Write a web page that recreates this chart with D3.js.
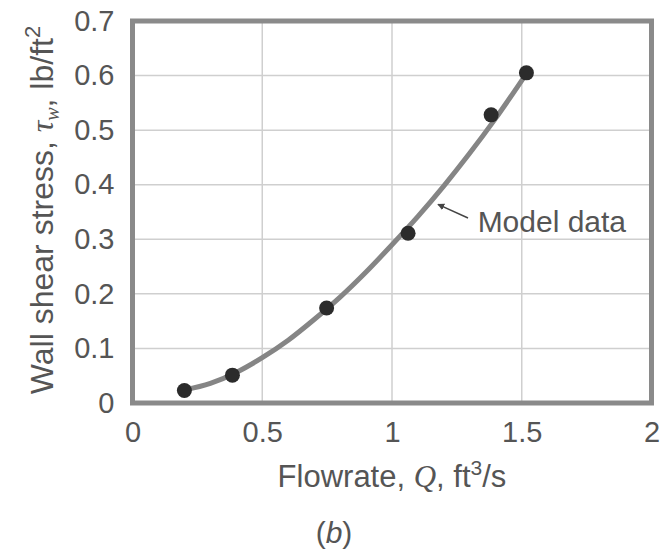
<!DOCTYPE html>
<html>
<head>
<meta charset="utf-8">
<script src="https://cdn.jsdelivr.net/npm/d3@7"></script>
<style>
body { margin: 0; background: #fff; }
text { font-family: "Liberation Sans", Arial, sans-serif; fill: #555; }
.serif { font-family: "Liberation Serif", "Times New Roman", serif; font-style: italic; }
</style>
</head>
<body>
<svg id="chart" width="671" height="553"></svg>
<script>
// measured points (model data)
let flowrate = [0.2, 0.385, 0.748, 1.062, 1.382, 1.518];
let shearStress = [0.023, 0.051, 0.174, 0.311, 0.528, 0.605];

// smooth line through the model data
let curveQ = [0.2, 0.3, 0.4, 0.5, 0.6, 0.7, 0.8, 0.9, 1.0, 1.1, 1.2, 1.3, 1.4, 1.52];
let curveTau = [0.024, 0.036, 0.056, 0.083, 0.115, 0.153, 0.194, 0.24, 0.29, 0.342, 0.398, 0.458, 0.522, 0.605];

let xTicks = [0, 0.5, 1, 1.5, 2];
let yTicks = [0, 0.1, 0.2, 0.3, 0.4, 0.5, 0.6, 0.7];

// annotation, in data units
let labelText = "Model data";
let labelAt = [1.33, 0.313];
let arrowFrom = [1.293, 0.339];
let arrowTo = [1.177, 0.364];

let svg = d3.select("#chart");

// plot box (window.top is taken, so prefixed names)
let plotLeft = 132.5, plotRight = 651.5, plotTop = 21, plotBottom = 403;

let x = d3.scaleLinear().domain([0, 2]).range([plotLeft, plotRight]);
let y = d3.scaleLinear().domain([0, 0.7]).range([plotBottom, plotTop]);

// grid
svg.append("g")
    .selectAll("line")
    .data(xTicks.slice(1, -1))
    .enter().append("line")
    .attr("x1", d => x(d)).attr("x2", d => x(d))
    .attr("y1", plotTop).attr("y2", plotBottom)
    .attr("stroke", "#cfcfcf").attr("stroke-width", 1.5);

svg.append("g")
    .selectAll("line")
    .data(yTicks.slice(1, -1))
    .enter().append("line")
    .attr("x1", plotLeft).attr("x2", plotRight)
    .attr("y1", d => y(d)).attr("y2", d => y(d))
    .attr("stroke", "#cfcfcf").attr("stroke-width", 1.5);

// axes (labels only, frame drawn separately)
let fmt = d => String(d);
let xAxis = svg.append("g")
    .attr("transform", "translate(0," + plotBottom + ")")
    .call(d3.axisBottom(x).tickValues(xTicks).tickFormat(fmt).tickSize(0).tickPadding(18));
let yAxis = svg.append("g")
    .attr("transform", "translate(" + plotLeft + ",0)")
    .call(d3.axisLeft(y).tickValues(yTicks).tickFormat(fmt).tickSize(0).tickPadding(18));

[xAxis, yAxis].forEach(function(a){
    a.select(".domain").remove();
    a.selectAll("text")
        .attr("font-size", 29)
        .attr("font-family", "Liberation Sans, Arial, sans-serif")
        .attr("fill", "#555");
});

// frame
svg.append("rect")
    .attr("x", plotLeft).attr("y", plotTop)
    .attr("width", plotRight - plotLeft).attr("height", plotBottom - plotTop)
    .attr("fill", "none")
    .attr("stroke", "#8a8a8a")
    .attr("stroke-width", 5);

// model curve
let curveData = curveQ.map((q, i) => [q, curveTau[i]]);
let line = d3.line()
    .x(d => x(d[0]))
    .y(d => y(d[1]))
    .curve(d3.curveMonotoneX);

svg.append("path")
    .datum(curveData)
    .attr("d", line)
    .attr("fill", "none")
    .attr("stroke", "#858585")
    .attr("stroke-width", 5);

// points
svg.append("g")
    .selectAll("circle")
    .data(flowrate)
    .enter().append("circle")
    .attr("cx", d => x(d))
    .attr("cy", (d, i) => y(shearStress[i]))
    .attr("r", 7.5)
    .attr("fill", "#2b2b2b");

// arrow + label
svg.append("defs").append("marker")
    .attr("id", "head")
    .attr("viewBox", "0 0 10 10")
    .attr("refX", 9).attr("refY", 5)
    .attr("markerWidth", 7).attr("markerHeight", 7)
    .attr("markerUnits", "userSpaceOnUse")
    .attr("orient", "auto")
    .append("path")
    .attr("d", "M0,0 L10,5 L0,10 z")
    .attr("fill", "#444");

svg.append("line")
    .attr("x1", x(arrowFrom[0])).attr("y1", y(arrowFrom[1]))
    .attr("x2", x(arrowTo[0])).attr("y2", y(arrowTo[1]))
    .attr("stroke", "#444").attr("stroke-width", 1.5)
    .attr("marker-end", "url(#head)");

svg.append("text")
    .attr("x", x(labelAt[0])).attr("y", y(labelAt[1]))
    .attr("font-size", 30)
    .text(labelText);

// x title
let xt = svg.append("text")
    .attr("x", (plotLeft + plotRight) / 2).attr("y", 487)
    .attr("text-anchor", "middle")
    .attr("font-size", 31);
xt.append("tspan").text("Flowrate, ");
xt.append("tspan").attr("class", "serif").text("Q");
xt.append("tspan").text(", ft");
xt.append("tspan").attr("dy", -12).attr("font-size", 21).text("3");
xt.append("tspan").attr("dy", 12).text("/s");

// y title
let yt = svg.append("text")
    .attr("transform", "translate(53,210) rotate(-90)")
    .attr("text-anchor", "middle")
    .attr("font-size", 32);
yt.append("tspan").text("Wall shear stress, ");
yt.append("tspan").attr("class", "serif").text("\u03c4");
yt.append("tspan").attr("class", "serif").attr("dy", 6).attr("font-size", 20).text("w");
yt.append("tspan").attr("dy", -6).text(", lb/ft");
yt.append("tspan").attr("dy", -13).attr("font-size", 22).text("2");

// panel tag
let tag = svg.append("text")
    .attr("x", 334).attr("y", 543)
    .attr("text-anchor", "middle")
    .attr("font-size", 30)
    .attr("font-family", "Liberation Serif, serif");
tag.append("tspan").text("(");
tag.append("tspan").attr("font-style", "italic").text("b");
tag.append("tspan").text(")");
</script>
</body>
</html>
